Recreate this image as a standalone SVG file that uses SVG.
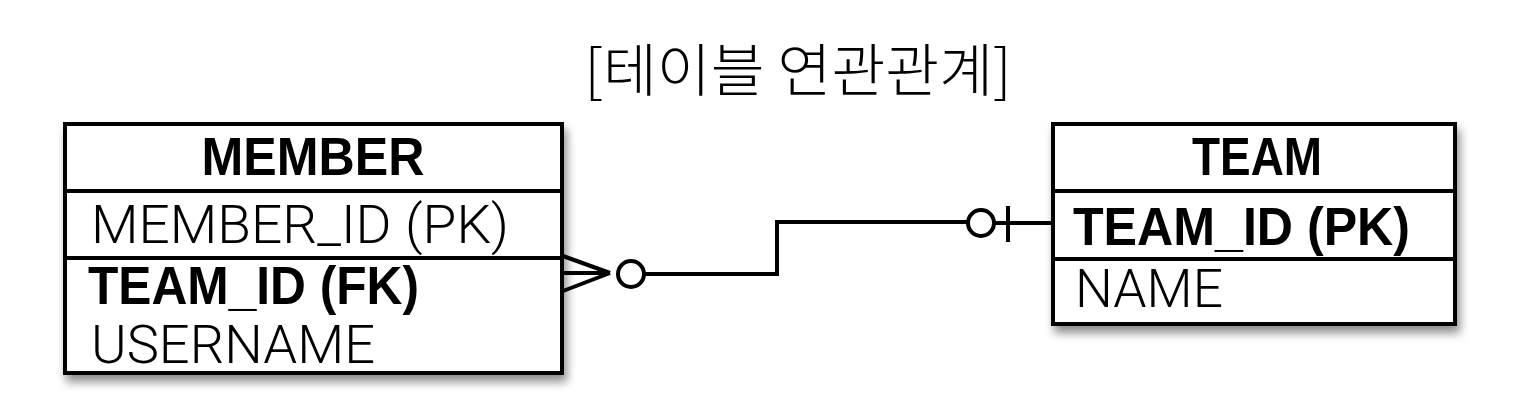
<svg xmlns="http://www.w3.org/2000/svg" width="1522" height="418" viewBox="0 0 1522 418">
<style>
.box{fill:#fff;stroke:#000;stroke-width:4}
.div{stroke:#000;stroke-width:4}
.t{font-family:"Liberation Sans",Arial,sans-serif;font-size:54px;fill:#000}
.b{font-weight:bold}
.l{font-family:Roboto,"Liberation Sans",sans-serif;font-weight:300}
.title{font-family:"Noto Sans CJK KR","Noto Sans",sans-serif;font-size:57px;font-weight:300;fill:#000}
.c{fill:none;stroke:#000;stroke-width:4}
.ci{fill:#fff;stroke:#000;stroke-width:4}
</style>
<defs>
<filter id="sh" x="-10%" y="-10%" width="125%" height="130%">
<feDropShadow dx="3" dy="7" stdDeviation="5" flood-color="#000" flood-opacity="0.45"/>
</filter>
</defs>
<rect width="1522" height="418" fill="#fff"/>
<text class="title" x="798" y="91" text-anchor="middle" textLength="427" lengthAdjust="spacingAndGlyphs">[테이블 연관관계]</text>
<g id="member">
<rect class="box" x="65" y="124" width="497" height="249" filter="url(#sh)"/>
<line class="div" x1="65" y1="191" x2="562" y2="191"/>
<line class="div" x1="65" y1="258" x2="562" y2="258"/>
<text class="t b" x="313" y="175" text-anchor="middle" textLength="223" lengthAdjust="spacingAndGlyphs">MEMBER</text>
<text class="t l" x="91" y="243" textLength="418" lengthAdjust="spacingAndGlyphs">MEMBER_ID (PK)</text>
<text class="t b" x="88" y="304" textLength="331" lengthAdjust="spacingAndGlyphs">TEAM_ID (FK)</text>
<text class="t l" x="91" y="363" textLength="284" lengthAdjust="spacingAndGlyphs">USERNAME</text>
</g>
<g id="team">
<rect class="box" x="1053" y="124" width="402" height="200" filter="url(#sh)"/>
<line class="div" x1="1053" y1="191" x2="1455" y2="191"/>
<line class="div" x1="1053" y1="259" x2="1455" y2="259"/>
<text class="t b" x="1257" y="175" text-anchor="middle" textLength="130" lengthAdjust="spacingAndGlyphs">TEAM</text>
<text class="t b" x="1073" y="245" textLength="337" lengthAdjust="spacingAndGlyphs">TEAM_ID (PK)</text>
<text class="t l" x="1075" y="307" textLength="148" lengthAdjust="spacingAndGlyphs">NAME</text>
</g>
<g id="connectors">
<path class="c" d="M644 274 H777 V222 H968"/>
<path class="c" d="M563 256 L610 273 M563 273 H610 M563 291 L610 273"/>
<circle class="ci" cx="631" cy="274" r="13"/>
<path class="c" d="M994 223 H1051 M1008 206 V242"/>
<circle class="ci" cx="981" cy="223" r="13"/>
</g>
</svg>
